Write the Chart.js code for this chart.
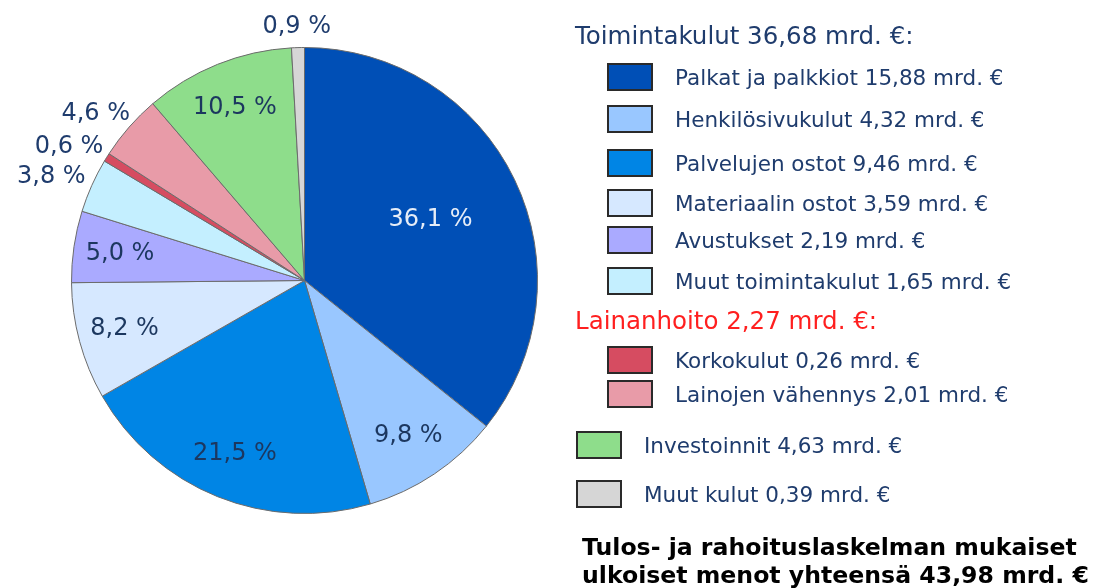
<!DOCTYPE html>
<html>
<head>
<meta charset="utf-8">
<script src="https://cdn.jsdelivr.net/npm/chart.js@4"></script>
<style>
  body { margin: 0; background: #fff; font-family: "DejaVu Sans", Verdana, sans-serif; }
  #wrap { position: relative; width: 1100px; height: 588px; overflow: hidden; }
  #pie { position: absolute; left: 0; top: 0; }
  .row { position: absolute; display: flex; align-items: center; transform: translateY(-50%); white-space: nowrap; }
  .box { width: 42px; height: 24px; border: 2px solid #2a2a2a; margin-right: 22px; }
  .txt { font-size: 21.5px; color: #1f3c6d; }
  .head { position: absolute; transform: translateY(-50%); font-size: 24.5px; white-space: nowrap; }
  .caption { position: absolute; left: 582px; top: 533px; font-size: 23.6px; font-weight: bold; color: #000; line-height: 28px; white-space: nowrap; }
</style>
</head>
<body>
<div id="wrap">
  <canvas id="pie" width="1100" height="588"></canvas>
  <div id="legend"></div>
  <div class="caption" id="caption"></div>
</div>
<script>
// slices, clockwise from 12 o'clock
const names = ['Palkat ja palkkiot', 'Henkilösivukulut', 'Palvelujen ostot', 'Materiaalin ostot',
               'Avustukset', 'Muut toimintakulut', 'Korkokulut', 'Lainojen vähennys',
               'Investoinnit', 'Muut kulut'];
const amounts = [15.88, 4.32, 9.46, 3.59, 2.19, 1.65, 0.26, 2.01, 4.63, 0.39]; // mrd. €
const shares = [36.1, 9.8, 21.5, 8.2, 5.0, 3.8, 0.6, 4.6, 10.5, 0.9];        // %
const colors = ['#004fb6', '#99c7ff', '#0085e5', '#d6e8ff', '#aaaaff',
                '#c4efff', '#d64c61', '#e89ba8', '#8edd8b', '#d6d6d6'];

const groupNames = ['Toimintakulut', 'Lainanhoito'];
const groupTotals = [36.68, 2.27];
const grandTotal = 43.98;

// legend layout (px)
const headY = [35, 320];
const headColor = ['#1f3c6d', '#ff1f1f'];
const rowY = [77, 119, 163, 203, 240, 281, 360, 394, 445, 494];
const rowGroup = [0, 0, 0, 0, 0, 0, 1, 1, -1, -1];

const fmt = v => v.toFixed(2).replace('.', ',');

// legend
const legend = document.getElementById('legend');
groupNames.forEach((g, i) => {
    const h = document.createElement('div');
    h.className = 'head';
    h.style.left = '575px';
    h.style.top = headY[i] + 'px';
    h.style.color = headColor[i];
    h.textContent = g + ' ' + fmt(groupTotals[i]) + ' mrd. €:';
    legend.appendChild(h);
});
names.forEach((n, i) => {
    const r = document.createElement('div');
    r.className = 'row';
    r.style.left = (rowGroup[i] < 0 ? 576 : 607) + 'px';
    r.style.top = rowY[i] + 'px';
    r.innerHTML = '<div class="box" style="background:' + colors[i] + '"></div>' +
                  '<span class="txt">' + n + ' ' + fmt(amounts[i]) + ' mrd. €</span>';
    legend.appendChild(r);
});
document.getElementById('caption').innerHTML =
    'Tulos- ja rahoituslaskelman mukaiset<br>ulkoiset menot yhteensä ' + fmt(grandTotal) + ' mrd. €';

// percent labels on / around slices
const sliceLabels = {
    id: 'sliceLabels',
    afterDatasetsDraw(chart) {
        const ctx = chart.ctx;
        const meta = chart.getDatasetMeta(0);
        ctx.save();
        ctx.font = '24px "DejaVu Sans", Verdana, sans-serif';
        ctx.textAlign = 'center';
        ctx.textBaseline = 'middle';
        meta.data.forEach((arc, i) => {
            const p = arc.getProps(['x', 'y', 'startAngle', 'endAngle', 'outerRadius'], true);
            const mid = (p.startAngle + p.endAngle) / 2;
            const dx = Math.cos(mid), dy = Math.sin(mid);
            const text = shares[i].toFixed(1).replace('.', ',') + ' %';
            let x, y;
            if (shares[i] >= 5) {
                const f = shares[i] >= 30 ? 0.6 : 0.8;
                x = p.x + dx * p.outerRadius * f;
                y = p.y + dy * p.outerRadius * f;
                ctx.fillStyle = shares[i] >= 30 ? '#e6edf7' : '#1c375f';
            } else {
                const w = ctx.measureText(text).width;
                const ax = p.x + dx * (p.outerRadius + 10);
                const ay = p.y + dy * (p.outerRadius + 10);
                x = ax + dx * w / 2;
                y = ay + dy * 11;
                ctx.fillStyle = '#1f3c6d';
            }
            ctx.fillText(text, x, y);
        });
        ctx.restore();
    }
};

new Chart(document.getElementById('pie').getContext('2d'), {
    type: 'pie',
    data: {
        labels: names,
        datasets: [{
            data: shares,
            backgroundColor: colors,
            borderColor: '#6b6b6b',
            borderWidth: 1
        }]
    },
    options: {
        responsive: false,
        animation: false,
        layout: { padding: { left: 71, right: 562, top: 47, bottom: 74 } },
        plugins: {
            legend: { display: false },
            tooltip: { enabled: false }
        }
    },
    plugins: [sliceLabels]
});
</script>
</body>
</html>
